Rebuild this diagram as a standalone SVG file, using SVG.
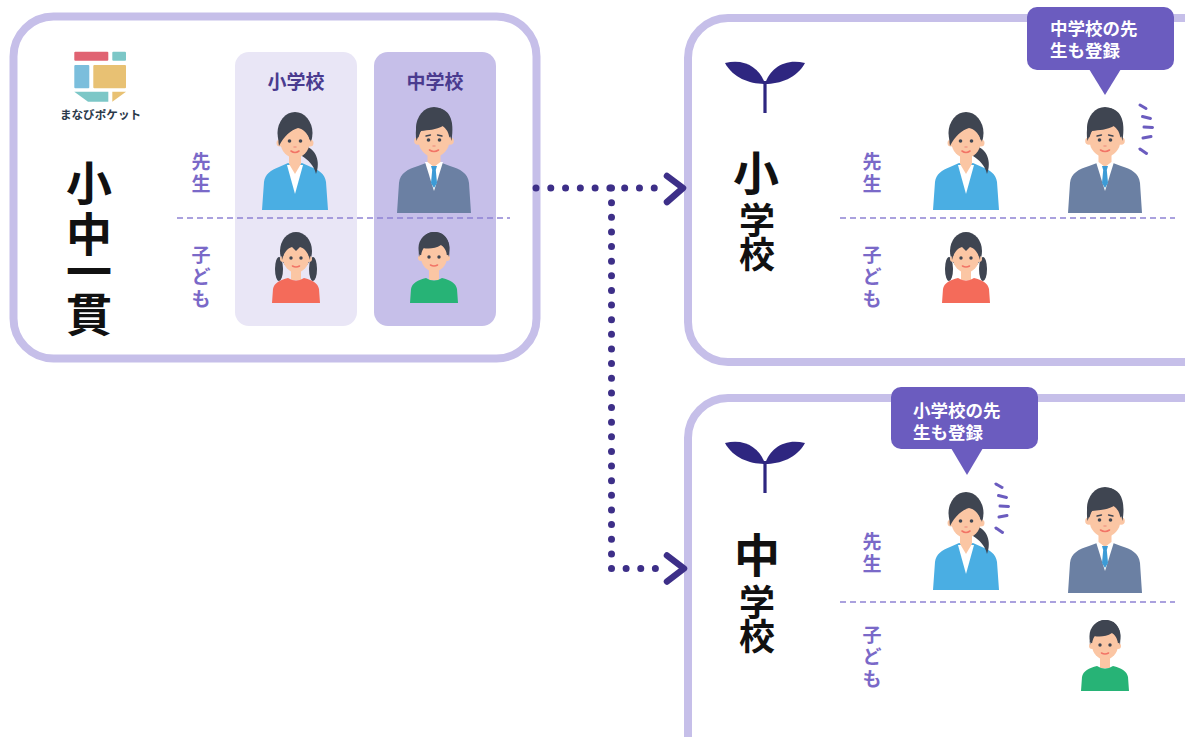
<svg xmlns="http://www.w3.org/2000/svg" xmlns:xlink="http://www.w3.org/1999/xlink" width="1185" height="737" viewBox="0 0 1185 737">
  <style>
    .jp { font-family: "Noto Sans CJK JP", "Noto Sans CJK SC", sans-serif; font-weight: 700; }
    .frame { fill: #ffffff; stroke: #c6bfe9; stroke-width: 8; }
    .big { font-size: 46px; fill: #111111; text-anchor: middle; }
    .mid { font-size: 36px; fill: #111111; text-anchor: middle; }
    .role { font-size: 19px; fill: #7a69c8; text-anchor: middle; }
    .colhead { font-size: 19px; fill: #4a3b8f; text-anchor: middle; }
    .bubble { fill: #6b5cbf; }
    .btext { font-size: 17.5px; fill: #ffffff; }
    .divider { stroke: #8f82d4; stroke-width: 1.6; stroke-dasharray: 6 4; fill: none; }
    .dots { stroke: #3d2f88; stroke-width: 7; stroke-linecap: round; fill: none; }
    .chev { stroke: #3d2f88; stroke-width: 6.5; stroke-linecap: round; stroke-linejoin: round; fill: none; }
    .shake { stroke: #6b5cbf; stroke-width: 3; stroke-linecap: round; fill: none; }
    .skin { fill: #fbc6a4; }
    .hair { fill: #3f4551; }
    .eye { fill: #3f4551; }
    .mouth { stroke: #f27466; stroke-width: 1.6; stroke-linecap: round; fill: none; }
    .sprout { fill: #2e2680; }
  </style>
  <defs>
    <!-- female teacher, origin at bottom centre -->
    <g id="teacherF">
      <ellipse class="hair" cx="0" cy="-77" rx="17.5" ry="21"/>
      <rect class="skin" x="-6" y="-58" width="12" height="16"/>
      <path fill="#4aaee3" d="M-33,0 L-31,-28 C-30,-36 -24,-40 -16,-43 L-7,-47 L7,-47 L16,-43 C24,-40 30,-36 31,-28 L33,0 Z"/>
      <polygon fill="#ffffff" points="-8,-45 8,-45 0,-16"/>
      <polygon class="skin" points="-6.5,-47 6.5,-47 0,-36"/>
      <path class="hair" d="M9,-64 C21,-62 26,-48 21,-36 C19,-45 13,-50 7,-54 Z"/>
      <circle class="skin" cx="-15" cy="-67" r="3.5"/>
      <circle class="skin" cx="15" cy="-67" r="3.5"/>
      <ellipse class="skin" cx="0" cy="-68" rx="14.5" ry="16"/>
      <path class="hair" d="M-16,-64 C-19,-86 -8,-92 2,-91 C13,-91 19,-84 16,-68 C13,-77 8,-81 3,-82 C-4,-80 -11,-74 -16,-64 Z"/>
      <circle class="eye" cx="-5.5" cy="-69" r="1.8"/>
      <circle class="eye" cx="5.5" cy="-69" r="1.8"/>
      <path class="mouth" d="M-4,-59 Q0,-56 4,-59"/>
      <path d="M-1,-63 L1,-63" stroke="#f29a86" stroke-width="1.4" stroke-linecap="round"/>
    </g>
    <!-- male teacher, origin at bottom centre -->
    <g id="teacherM">
      <ellipse class="hair" cx="0" cy="-85" rx="18" ry="21"/>
      <rect class="skin" x="-6.5" y="-62" width="13" height="16"/>
      <path fill="#6b80a3" d="M-37,0 L-35,-30 C-34,-40 -26,-44 -16,-47 L-8,-50 L8,-50 L16,-47 C26,-44 34,-40 35,-30 L37,0 Z"/>
      <polygon fill="#ffffff" points="-9,-51 9,-51 0,-22"/>
      <polygon class="skin" points="-6.5,-51 6.5,-51 0,-46"/>
      <polygon fill="#3d9bd6" points="-3,-47 3,-47 1.8,-43 3,-30 0,-25 -3,-30 -1.8,-43"/>
      <circle class="skin" cx="-16" cy="-72" r="3.8"/>
      <circle class="skin" cx="16" cy="-72" r="3.8"/>
      <ellipse class="skin" cx="0" cy="-73" rx="15.5" ry="17"/>
      <path class="hair" d="M-17.5,-72 C-21,-96 -8,-106 3,-105 C15,-104 21,-94 17.5,-72 C16,-80 13,-85 9,-87 C2,-83 -6,-83 -13,-82 C-15,-79 -16,-76 -17.5,-72 Z"/>
      <path d="M-8,-77 L-3.5,-78" stroke="#3f4551" stroke-width="1.3" stroke-linecap="round"/>
      <path d="M3.5,-78 L8,-77" stroke="#3f4551" stroke-width="1.3" stroke-linecap="round"/>
      <circle class="eye" cx="-5.5" cy="-73" r="1.8"/>
      <circle class="eye" cx="5.5" cy="-73" r="1.8"/>
      <path class="mouth" d="M-4.5,-63 Q0,-60 4.5,-63"/>
      <path d="M-1,-67 L1,-67" stroke="#f29a86" stroke-width="1.4" stroke-linecap="round"/>
    </g>
    <!-- girl, origin at bottom centre -->
    <g id="girl">
      <ellipse class="hair" cx="0" cy="-52" rx="16" ry="19"/>
      <ellipse class="hair" cx="-17" cy="-34" rx="4" ry="12"/>
      <ellipse class="hair" cx="17" cy="-34" rx="4" ry="12"/>
      <rect class="skin" x="-5" y="-34" width="10" height="11"/>
      <path fill="#f46b5a" d="M-24,0 L-23,-14 C-22,-20 -16,-23 -8,-25 Q0,-20 8,-25 C16,-23 22,-20 23,-14 L24,0 Z"/>
      <circle class="skin" cx="-13" cy="-44" r="3"/>
      <circle class="skin" cx="13" cy="-44" r="3"/>
      <ellipse class="skin" cx="0" cy="-45" rx="13" ry="14.5"/>
      <path class="hair" d="M-14,-43 C-16,-62 -6,-68 0,-68 C8,-68 16,-62 14,-43 C12,-51 8,-55 4,-56 L0,-52 L-4,-56 C-8,-55 -12,-51 -14,-43 Z"/>
      <circle class="eye" cx="-5" cy="-45" r="1.7"/>
      <circle class="eye" cx="5" cy="-45" r="1.7"/>
      <path class="mouth" d="M-3.5,-37 Q0,-35 3.5,-37"/>
    </g>
    <!-- boy, origin at bottom centre -->
    <g id="boy">
      <ellipse class="hair" cx="0" cy="-55" rx="15.5" ry="16"/>
      <rect class="skin" x="-5" y="-34" width="10" height="11"/>
      <path fill="#27b376" d="M-24,0 L-23,-14 C-22,-20 -16,-23 -8,-25 Q0,-20 8,-25 C16,-23 22,-20 23,-14 L24,0 Z"/>
      <circle class="skin" cx="-13" cy="-45" r="3"/>
      <circle class="skin" cx="13" cy="-45" r="3"/>
      <ellipse class="skin" cx="0" cy="-46" rx="13" ry="14.5"/>
      <path class="hair" d="M-15,-46 C-17,-66 -6,-72 2,-71 C12,-70 17,-62 15,-46 C13,-53 10,-57 7,-58 C1,-54 -6,-54 -11,-55 C-13,-52 -14,-50 -15,-46 Z"/>
      <circle class="eye" cx="-5" cy="-46" r="1.7"/>
      <circle class="eye" cx="5" cy="-46" r="1.7"/>
      <path class="mouth" d="M-3.5,-38 Q0,-36 3.5,-38"/>
    </g>
    <!-- sprout mark -->
    <g id="sprout">
      <path class="sprout" d="M0,0 C20,-5 35,5 40,21 C25,21 8,15 0,0 Z"/>
      <path class="sprout" d="M80,0 C60,-5 45,5 40,21 C55,21 72,15 80,0 Z"/>
      <rect class="sprout" x="38.4" y="18" width="3.2" height="32"/>
    </g>
    <!-- attention strokes -->
    <g id="shake" class="shake">
      <line x1="0" y1="0" x2="6" y2="3.5"/>
      <line x1="2.5" y1="11.5" x2="10.5" y2="13.5"/>
      <line x1="4" y1="22" x2="12.5" y2="22.5"/>
      <line x1="3" y1="33" x2="11" y2="31.5"/>
      <line x1="0" y1="44" x2="6.5" y2="48.5"/>
    </g>
  </defs>

  <rect width="1185" height="737" fill="#ffffff"/>

  <!-- combined school card -->
  <g id="node-integrated">
    <rect class="frame" x="13.5" y="16.5" width="523" height="342" rx="40"/>
    <g id="logo">
      <rect x="74.3" y="51.7" width="34" height="9" rx="1" fill="#e06372"/>
      <rect x="112.3" y="51.7" width="13.7" height="9" rx="1" fill="#7cc7c7"/>
      <rect x="74.3" y="65" width="15" height="23.3" rx="1" fill="#7bbedc"/>
      <rect x="93.3" y="65" width="32.7" height="23.3" rx="1" fill="#e8c173"/>
      <polygon points="74.3,91.7 108.3,91.7 108.3,101.7 88,101.7" fill="#7cc7c7"/>
      <polygon points="112.3,91.7 126,91.7 112.3,101.7" fill="#e8c173"/>
      <text class="jp" x="100.5" y="118.5" font-size="11.6" fill="#2b3a4a" text-anchor="middle">まなびポケット</text>
    </g>
    <text class="jp big" x="89" y="200">小</text>
    <text class="jp big" x="89" y="251">中</text>
    <text class="jp big" x="89" y="288">一</text>
    <text class="jp big" x="89" y="331">貫</text>
    <rect x="235" y="52" width="122" height="274" rx="14" fill="#e9e6f6"/>
    <rect x="374" y="52" width="122" height="274" rx="14" fill="#c6bfe9"/>
    <text class="jp colhead" x="296" y="89">小学校</text>
    <text class="jp colhead" x="435" y="89">中学校</text>
    <text class="jp role" x="201" y="169">先</text>
    <text class="jp role" x="201" y="191">生</text>
    <text class="jp role" x="201" y="262">子</text>
    <text class="jp role" x="201" y="284">ど</text>
    <text class="jp role" x="201" y="306">も</text>
    <line class="divider" x1="177" y1="218" x2="510" y2="218"/>
    <use xlink:href="#teacherF" href="#teacherF" transform="translate(295,210)"/>
    <use xlink:href="#teacherM" href="#teacherM" transform="translate(434,213)"/>
    <use xlink:href="#girl" href="#girl" transform="translate(296,303)"/>
    <use xlink:href="#boy" href="#boy" transform="translate(434,303)"/>
  </g>

  <!-- elementary school card -->
  <g id="node-elementary">
    <rect class="frame" x="688" y="18" width="540" height="344" rx="40"/>
    <use xlink:href="#sprout" href="#sprout" transform="translate(725,63)"/>
    <text class="jp big" x="756" y="190">小</text>
    <text class="jp mid" x="757" y="234">学</text>
    <text class="jp mid" x="757" y="268">校</text>
    <text class="jp role" x="872" y="169">先</text>
    <text class="jp role" x="872" y="191">生</text>
    <text class="jp role" x="872" y="262">子</text>
    <text class="jp role" x="872" y="284">ど</text>
    <text class="jp role" x="872" y="306">も</text>
    <line class="divider" x1="840" y1="218" x2="1175" y2="218"/>
    <use xlink:href="#teacherF" href="#teacherF" transform="translate(966,210)"/>
    <use xlink:href="#teacherM" href="#teacherM" transform="translate(1105,213)"/>
    <use xlink:href="#girl" href="#girl" transform="translate(966,303)"/>
    <use xlink:href="#shake" href="#shake" transform="translate(1140,105)"/>
    <g id="note-elementary">
      <rect class="bubble" x="1027" y="7" width="147" height="63" rx="10"/>
      <polygon class="bubble" points="1089,69 1121,69 1105,95"/>
      <text class="jp btext" x="1050" y="34.5">中学校の先</text>
      <text class="jp btext" x="1050" y="56.5">生も登録</text>
    </g>
  </g>

  <!-- junior high school card -->
  <g id="node-junior">
    <rect class="frame" x="688" y="398" width="540" height="400" rx="40"/>
    <use xlink:href="#sprout" href="#sprout" transform="translate(725,443)"/>
    <text class="jp big" x="757" y="572">中</text>
    <text class="jp mid" x="757" y="616">学</text>
    <text class="jp mid" x="757" y="650">校</text>
    <text class="jp role" x="872" y="549">先</text>
    <text class="jp role" x="872" y="571">生</text>
    <text class="jp role" x="872" y="642">子</text>
    <text class="jp role" x="872" y="664">ど</text>
    <text class="jp role" x="872" y="686">も</text>
    <line class="divider" x1="840" y1="602" x2="1175" y2="602"/>
    <use xlink:href="#teacherF" href="#teacherF" transform="translate(966,590)"/>
    <use xlink:href="#teacherM" href="#teacherM" transform="translate(1105,593)"/>
    <use xlink:href="#boy" href="#boy" transform="translate(1105,691)"/>
    <use xlink:href="#shake" href="#shake" transform="translate(996,484)"/>
    <g id="note-junior">
      <rect class="bubble" x="891" y="387" width="147" height="62" rx="10"/>
      <polygon class="bubble" points="951,448 983,448 967,475"/>
      <text class="jp btext" x="913" y="416.5">小学校の先</text>
      <text class="jp btext" x="913" y="438.5">生も登録</text>
    </g>
  </g>

  <!-- connectors -->
  <g id="connectors">
    <line class="dots" x1="536" y1="188" x2="669" y2="188" stroke-dasharray="0 14.78"/>
    <line class="dots" x1="611.5" y1="188" x2="611.5" y2="568.5" stroke-dasharray="0 14.635"/>
    <line class="dots" x1="611.5" y1="568.5" x2="670" y2="568.5" stroke-dasharray="0 14.625"/>
    <polyline class="chev" points="667,176 683,188 667,202"/>
    <polyline class="chev" points="667,555.5 684,568.5 667,581.5"/>
  </g>
</svg>
